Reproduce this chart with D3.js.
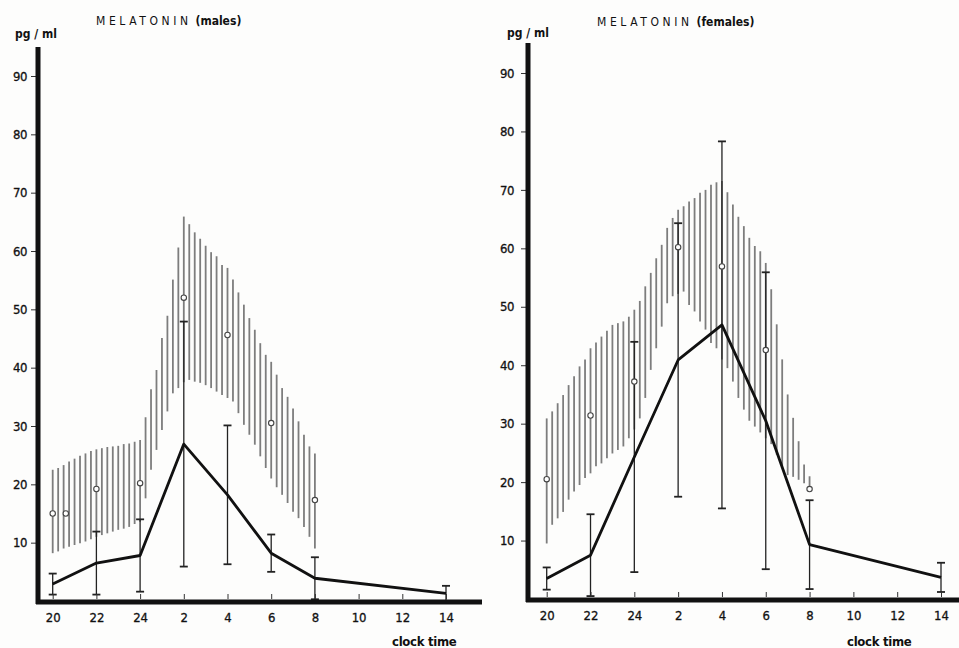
<!DOCTYPE html>
<html>
<head>
<meta charset="utf-8">
<script src="https://cdn.jsdelivr.net/npm/d3@7"></script>
<style>
  body { margin: 0; background: #fdfdfc; }
  svg { display: block; }
  text { font-family: "DejaVu Sans Condensed", "Liberation Sans Narrow", sans-serif; fill: #111; }
</style>
</head>
<body>
<script>
// tick labels (clock hours) and y ticks
let hourLabels = ["20", "22", "24", "2", "4", "6", "8", "10", "12", "14"];
let yTicks = [10, 20, 30, 40, 50, 60, 70, 80, 90];

// patients: mean and error (half width) at the sampling hours
let patientHours = [20, 22, 24, 2, 4, 6, 8, 14];
let maleMean = [2.9, 6.5, 7.8, 26.9, 18.2, 8.2, 3.9, 1.3];
let maleErr = [1.8, 5.4, 6.2, 21.0, 11.9, 3.2, 3.6, 1.3];
let femaleMean = [3.5, 7.5, 24.3, 40.9, 46.9, 30.5, 9.3, 3.7];
let femaleErr = [1.9, 7.0, 19.7, 23.4, 31.4, 25.4, 7.6, 2.5];

// controls: mean values (open circles)
let maleCtrlHours = [20, 20.6, 22, 24, 2, 4, 6, 8];
let maleCtrl = [15, 15, 19.2, 20.2, 52, 45.6, 30.5, 17.3];
let femaleCtrlHours = [20, 22, 24, 2, 4, 6, 8];
let femaleCtrl = [20.5, 31.4, 37.2, 60.2, 56.9, 42.6, 18.8];

// control range, one hatch line every 15 minutes from 20:00 to 8:00
let maleUpper = [22.5, 22.8, 23.3, 23.9, 24.4, 24.9, 25.3, 25.7, 26.0, 26.2, 26.4, 26.5, 26.6, 26.9, 27.0, 27.3,
  27.6, 31.5, 36.3, 39.6, 45.1, 48.9, 55.1, 60.6, 65.9, 64.6, 63.2, 62.1, 60.9, 59.8, 59.1, 57.6,
  57.1, 55.1, 52.9, 50.8, 48.5, 46.5, 44.2, 42.2, 41.0, 38.8, 36.5, 35.0, 33.0, 30.8, 28.5, 26.5, 25.3];
let maleLower = [8.2, 8.5, 9.0, 9.3, 9.6, 9.9, 10.2, 10.6, 11.0, 11.3, 11.6, 11.9, 12.2, 12.4, 12.7, 13.2,
  13.6, 17.6, 22.5, 25.9, 29.3, 32.5, 35.6, 36.5, 37.5, 37.9, 37.6, 37.4, 37.0, 36.5, 35.9, 35.3,
  34.8, 34.2, 32.2, 30.2, 28.5, 26.8, 24.8, 22.8, 21.0, 19.5, 18.2, 16.8, 15.3, 14.2, 12.7, 11.0, 9.0];
let femaleUpper = [30.9, 32.1, 33.5, 34.9, 36.6, 38.1, 39.8, 41.0, 42.9, 43.9, 44.9, 45.9, 46.9, 47.2, 47.5, 48.3,
  49.5, 51.0, 53.5, 55.8, 58.3, 60.6, 63.5, 65.2, 66.6, 67.2, 68.0, 68.6, 69.5, 70.0, 70.9, 71.3,
  71.5, 69.6, 67.5, 65.4, 63.8, 61.8, 60.4, 59.5, 57.5, 53.0, 47.0, 41.0, 35.0, 31.0, 27.0, 23.0, 21.0];
let femaleLower = [9.5, 12.7, 13.8, 14.9, 17.0, 18.4, 19.5, 20.7, 21.5, 22.7, 23.2, 24.1, 24.9, 25.5, 26.1, 27.5,
  29.0, 30.9, 34.4, 39.2, 42.9, 46.6, 50.6, 51.8, 52.2, 52.6, 50.3, 49.2, 47.5, 46.1, 43.8, 42.9,
  41.0, 39.5, 37.2, 34.4, 32.4, 30.5, 29.5, 28.5, 27.5, 26.5, 24.7, 22.7, 21.2, 20.9, 20.4, 19.8, 19.2];

// hours since 20:00
let elapsed = (h) => h >= 20 ? h - 20 : h + 4;

let svg = d3.select("body").append("svg").attr("width", 959).attr("height", 648);

let panels = [
  { title: "(males)", mean: maleMean, err: maleErr, ctrlHours: maleCtrlHours, ctrl: maleCtrl,
    upper: maleUpper, lower: maleLower,
    xr: [52.7, 446], yr: [601, 76], axisX: 38, axisTop: 47, axisEnd: 482, labelPad: 4,
    titleX: 96, titleY: 25, unitX: 15, unitY: 38, clockX: 392 },
  { title: "(females)", mean: femaleMean, err: femaleErr, ctrlHours: femaleCtrlHours, ctrl: femaleCtrl,
    upper: femaleUpper, lower: femaleLower,
    xr: [546.7, 941], yr: [599, 73], axisX: 528, axisTop: 43, axisEnd: 962, labelPad: 7,
    titleX: 597, titleY: 26, unitX: 507, unitY: 37, clockX: 847 }
];

panels.forEach((p) => {
  let x = d3.scaleLinear().domain([0, 18]).range(p.xr);
  let y = d3.scaleLinear().domain([0, 90]).range(p.yr);
  let g = svg.append("g");
  let y0 = y(0);

  // hatched control band
  g.append("g").selectAll("line")
    .data(p.upper)
    .join("line")
    .attr("x1", (d, i) => x(i * 0.25)).attr("x2", (d, i) => x(i * 0.25))
    .attr("y1", (d) => y(d)).attr("y2", (d, i) => y(p.lower[i]))
    .attr("stroke", "#7d7d7d").attr("stroke-width", 1.8);

  // patient error bars
  let bars = g.append("g").attr("stroke", "#222").attr("stroke-width", 1.3);
  patientHours.forEach((h, i) => {
    let cx = x(elapsed(h));
    let lo = Math.max(0, p.mean[i] - p.err[i]);
    let hi = p.mean[i] + p.err[i];
    bars.append("line").attr("x1", cx).attr("x2", cx).attr("y1", y(hi)).attr("y2", y(lo));
    bars.append("line").attr("x1", cx - 4).attr("x2", cx + 4).attr("y1", y(hi)).attr("y2", y(hi)).attr("stroke-width", 1.8);
    bars.append("line").attr("x1", cx - 4).attr("x2", cx + 4).attr("y1", y(lo)).attr("y2", y(lo)).attr("stroke-width", 1.8);
  });

  // patient mean line
  let line = d3.line().x((d, i) => x(elapsed(patientHours[i]))).y((d) => y(d));
  g.append("path").attr("d", line(p.mean))
    .attr("fill", "none").attr("stroke", "#111").attr("stroke-width", 2.8).attr("stroke-linejoin", "round");

  // control means
  g.append("g").selectAll("circle")
    .data(p.ctrl)
    .join("circle")
    .attr("cx", (d, i) => x(elapsed(p.ctrlHours[i])))
    .attr("cy", (d) => y(d))
    .attr("r", 2.7)
    .attr("fill", "#fff").attr("stroke", "#444").attr("stroke-width", 1.1);

  // y axis ticks and labels
  let yAxis = d3.axisLeft(y).tickValues(yTicks).tickSize(5).tickPadding(p.labelPad);
  let ya = g.append("g").attr("transform", "translate(" + (p.axisX - 2) + ",0)").call(yAxis);
  ya.select(".domain").remove();
  ya.selectAll("text").style("font-size", "13px").style("letter-spacing", "-0.5px")
    .attr("stroke", "#111").attr("stroke-width", 0.3);
  ya.selectAll("line").attr("stroke", "#333");

  // x axis ticks (upward) and labels below
  let xAxis = d3.axisBottom(x).tickValues(d3.range(0, 19, 2))
    .tickFormat((d, i) => hourLabels[i]).tickSize(-5).tickPadding(14);
  let xa = g.append("g").attr("transform", "translate(0," + (y0 - 2) + ")").call(xAxis);
  xa.select(".domain").remove();
  xa.selectAll("text").style("font-size", "13px").attr("stroke", "#111").attr("stroke-width", 0.3);
  xa.selectAll("line").attr("stroke", "#333");

  // thick axis lines
  g.append("line").attr("x1", p.axisX).attr("x2", p.axisX).attr("y1", p.axisTop).attr("y2", y0 + 3)
    .attr("stroke", "#111").attr("stroke-width", 5);
  g.append("line").attr("x1", p.axisX - 2).attr("x2", p.axisEnd).attr("y1", y0 + 1).attr("y2", y0 + 1)
    .attr("stroke", "#111").attr("stroke-width", 5);

  // titles
  let t = g.append("text").attr("x", p.titleX).attr("y", p.titleY);
  t.append("tspan").text("MELATONIN").style("font-size", "12px").style("letter-spacing", "3.6px");
  t.append("tspan").text(" " + p.title).style("font-size", "12px").style("font-weight", "bold");
  g.append("text").attr("x", p.unitX).attr("y", p.unitY).text("pg / ml")
    .style("font-size", "12px").style("font-weight", "bold");
  g.append("text").attr("x", p.clockX).attr("y", 646).text("clock time")
    .style("font-size", "13px").style("font-weight", "bold").style("letter-spacing", "-0.3px");
});
</script>
</body>
</html>
